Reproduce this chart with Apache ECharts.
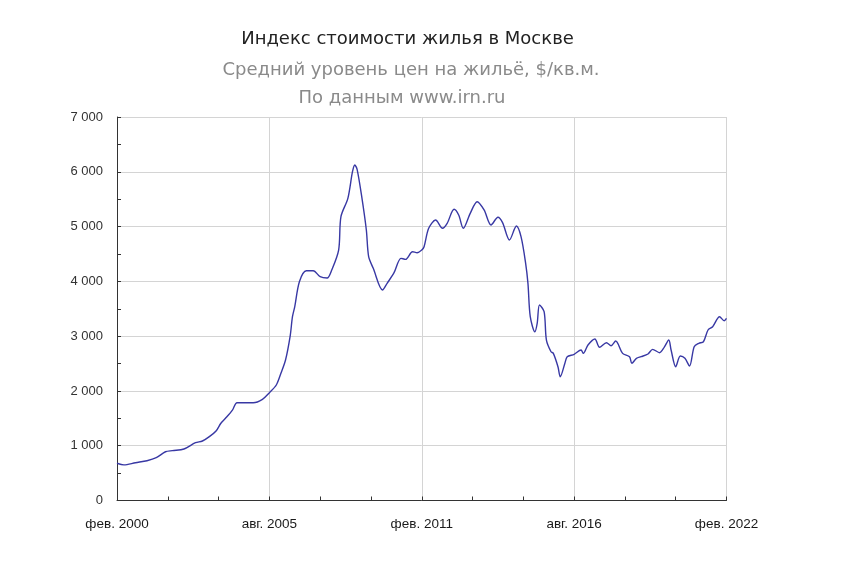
<!DOCTYPE html>
<html>
<head>
<meta charset="utf-8">
<script src="https://cdn.jsdelivr.net/npm/echarts@6/dist/echarts.min.js"></script>
<style>html,body{margin:0;padding:0;background:#fff}#c{width:864px;height:585px}</style>
</head>
<body>
<div id="c"></div>
<script>
var dates = ["2000-02","2000-05","2000-10","2001-03","2001-07","2001-11","2002-02","2002-07","2002-12","2003-03","2003-06","2003-09","2003-11","2004-01","2004-04","2004-06","2005-01","2005-05","2005-08","2005-11","2006-01","2006-03","2006-05","2006-06","2006-07","2006-09","2006-12","2007-03","2007-06","2007-09","2007-11","2008-02","2008-03","2008-06","2008-08","2008-09","2008-10","2008-12","2009-02","2009-03","2009-05","2009-09","2009-11","2010-02","2010-05","2010-07","2010-10","2010-12","2011-02","2011-03","2011-05","2011-08","2011-11","2012-01","2012-04","2012-06","2012-08","2012-11","2013-02","2013-05","2013-08","2013-11","2014-01","2014-04","2014-07","2014-09","2014-11","2014-12","2015-01","2015-03","2015-04","2015-05","2015-07","2015-08","2015-10","2015-11","2016-01","2016-02","2016-04","2016-05","2016-08","2016-11","2016-12","2017-02","2017-05","2017-07","2017-10","2017-12","2018-02","2018-05","2018-08","2018-09","2018-11","2019-01","2019-04","2019-06","2019-09","2019-11","2020-01","2020-02","2020-04","2020-06","2020-08","2020-10","2020-12","2021-02","2021-04","2021-06","2021-08","2021-11","2022-01","2022-02"];
var prices = [680,650,690,726,781,890,910,940,1055,1086,1165,1274,1410,1500,1650,1785,1785,1847,1968,2108,2322,2564,3000,3355,3540,3993,4194,4194,4085,4061,4207,4572,5180,5516,6001,6124,6045,5545,4937,4450,4238,3842,3964,4158,4420,4402,4541,4523,4572,4632,4968,5120,4968,5059,5315,5211,4968,5242,5454,5303,5029,5169,5072,4755,5010,4815,4329,3964,3355,3081,3234,3568,3446,2929,2716,2686,2442,2259,2504,2625,2668,2747,2686,2838,2948,2796,2880,2826,2911,2686,2625,2504,2595,2625,2674,2759,2698,2796,2929,2747,2442,2637,2595,2455,2808,2869,2898,3112,3172,3355,3282,3325];
var monthNames = ["янв.","фев.","мар.","апр.","мая","июн.","июл.","авг.","сен.","окт.","ноя.","дек."];
var titleText = "Индекс стоимости жилья в Москве";
var subText1 = "Средний уровень цен на жильё, $/кв.м.";
var subText2 = "По данным www.irn.ru";

function toIndex(d){var p=d.split("-");return (parseInt(p[0])-2000)*12+(parseInt(p[1])-2);}
function toLabel(i){var t=i+1;var y=2000+Math.floor(t/12);var m=t%12;return monthNames[m]+" "+y;}
var data = dates.map(function(d,i){return [toIndex(d),prices[i]];});

var chart = echarts.init(document.getElementById('c'),null,{renderer:'canvas'});
chart.setOption({
  animation:false,
  backgroundColor:'#fff',
  graphic:[
    {type:'text',x:407.5,y:39,style:{text:titleText,fill:'#222',font:'18px "DejaVu Sans"',textAlign:'center',textVerticalAlign:'middle'}},
    {type:'text',x:411,y:70,style:{text:subText1,fill:'#8a8a8a',font:'18px "DejaVu Sans"',textAlign:'center',textVerticalAlign:'middle'}},
    {type:'text',x:402,y:98,style:{text:subText2,fill:'#8a8a8a',font:'18px "DejaVu Sans"',textAlign:'center',textVerticalAlign:'middle'}}
  ],
  grid:{left:117,right:137.5,top:117,bottom:84.5,containLabel:false},
  xAxis:{type:'value',min:0,max:264,interval:66,
    axisLine:{show:true,lineStyle:{color:'#333',width:1}},
    axisTick:{show:true,inside:true,length:4,lineStyle:{color:'#333'}},
    minorTick:{show:true,splitNumber:3,length:4,lineStyle:{color:'#333'}},
    splitLine:{show:true,lineStyle:{color:'#d4d4d4',width:1}},
    axisLabel:{margin:17,color:'#1a1a1a',fontSize:13.5,fontFamily:'"Liberation Sans", Arial',formatter:function(v){return toLabel(v);}}
  },
  yAxis:{type:'value',min:0,max:7000,interval:1000,
    axisLine:{show:true,lineStyle:{color:'#333',width:1}},
    axisTick:{show:true,inside:true,length:4,lineStyle:{color:'#333'}},
    minorTick:{show:true,splitNumber:2,length:4,lineStyle:{color:'#333'}},
    splitLine:{show:true,lineStyle:{color:'#d4d4d4',width:1}},
    axisLabel:{margin:14,color:'#333',fontSize:13,fontFamily:'"Liberation Sans", Arial',formatter:function(v){return v>=1000?Math.floor(v/1000)+" "+String(v%1000).padStart(3,"0"):String(v);}}
  },
  series:[{type:'line',data:data,showSymbol:false,smooth:0.3,lineStyle:{color:'#3838a4',width:1.4}}]
});
</script>
</body>
</html>
